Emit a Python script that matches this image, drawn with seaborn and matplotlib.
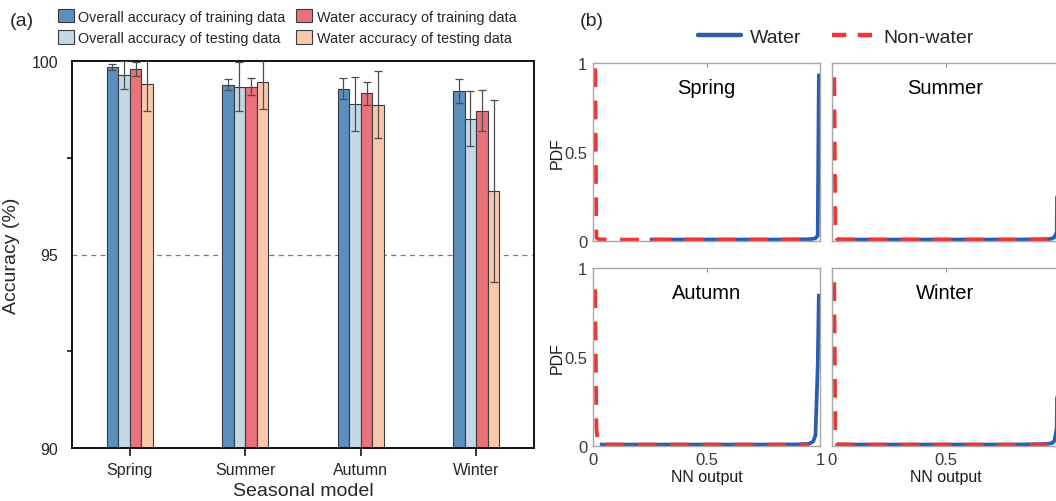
import numpy as np
import pandas as pd
import matplotlib
matplotlib.use("Agg")
import matplotlib.pyplot as plt
from matplotlib.lines import Line2D
from matplotlib.ticker import FixedLocator, MultipleLocator, NullFormatter
import seaborn as sns

# ---------------- (a) seasonal model accuracy ----------------
seasons = ["Spring", "Summer", "Autumn", "Winter"]
metrics = [
    "Overall accuracy of training data",
    "Overall accuracy of testing data",
    "Water accuracy of training data",
    "Water accuracy of testing data",
]
overall_train = [99.85, 99.39, 99.28, 99.23]
overall_train_err = [0.07, 0.14, 0.27, 0.31]
overall_test = [99.63, 99.34, 98.89, 98.51]
overall_test_err = [0.36, 0.63, 0.69, 0.71]
water_train = [99.79, 99.34, 99.17, 98.72]
water_train_err = [0.18, 0.22, 0.30, 0.53]
water_test = [99.41, 99.45, 98.87, 96.63]
water_test_err = [0.70, 0.68, 0.87, 2.35]
bar_colors = ["#5b8fc0", "#c3d7e7", "#ea727b", "#f9c8ab"]
acc_ticks = [90, 95, 100]

# ---------------- (b) PDF of the network output ----------------
pdf_x = [0.01, 0.015, 0.02, 0.03, 0.05, 0.10, 0.20, 0.25, 0.30, 0.40,
         0.50, 0.60, 0.70, 0.80, 0.90, 0.95, 0.97, 0.98, 0.99, 0.995]
nan = np.nan
spring_water = [nan, nan, nan, nan, nan, nan, nan, 0.008, 0.008, 0.008,
                0.008, 0.008, 0.008, 0.008, 0.009, 0.010, 0.012, 0.016, 0.03, 0.94]
summer_water = [nan, nan, 0.008, 0.008, 0.008, 0.008, 0.008, 0.008, 0.008, 0.008,
                0.008, 0.008, 0.008, 0.008, 0.009, 0.010, 0.014, 0.022, 0.05, 0.90]
autumn_water = [nan, nan, nan, 0.008, 0.008, 0.008, 0.008, 0.008, 0.008, 0.008,
                0.008, 0.008, 0.008, 0.008, 0.009, 0.012, 0.025, 0.06, 0.45, 0.855]
winter_water = [nan, nan, 0.008, 0.008, 0.008, 0.008, 0.008, 0.008, 0.008, 0.008,
                0.008, 0.008, 0.008, 0.008, 0.010, 0.012, 0.016, 0.030, 0.10, 0.85]
spring_nonwater = [0.97, 0.02, 0.012, 0.010, 0.009, 0.008, 0.008, 0.008, 0.008, 0.008,
                   0.008, 0.008, 0.008, 0.008, 0.008, 0.008, nan, nan, nan, nan]
summer_nonwater = [0.92, 0.03, 0.012, 0.010, 0.009, 0.008, 0.008, 0.008, 0.008, 0.008,
                   0.008, 0.008, 0.008, 0.008, 0.008, 0.008, nan, nan, nan, nan]
autumn_nonwater = [0.88, 0.10, 0.03, 0.012, 0.009, 0.008, 0.008, 0.008, 0.008, 0.008,
                   0.008, 0.008, 0.008, 0.008, 0.008, 0.008, nan, nan, nan, nan]
winter_nonwater = [0.92, 0.03, 0.012, 0.010, 0.009, 0.008, 0.008, 0.008, 0.008, 0.008,
                   0.008, 0.008, 0.008, 0.008, 0.008, 0.008, nan, nan, nan, nan]
pdf_ticks = [0, 0.5, 1]
pdf_tick_labels = ["0", "0.5", "1"]
water_color = "#2b5cae"
nonwater_color = "#f03333"

sns.set_style("white")
plt.rcParams["font.family"] = ["Liberation Sans", "DejaVu Sans"]

W, H = 1056, 502
fig = plt.figure(figsize=(W / 100, H / 100), dpi=100)


def frac(x0, y0, w, h):
    """Pixel box (left, top, width, height) -> figure fraction rect."""
    return [x0 / W, 1 - (y0 + h) / H, w / W, h / H]


# ---------------- panel (a) ----------------
ax = fig.add_axes(frac(72, 62, 462, 387))
df = pd.DataFrame({
    "season": seasons * 4,
    "metric": np.repeat(metrics, len(seasons)),
    "accuracy": overall_train + overall_test + water_train + water_test,
})
errs = [overall_train_err, overall_test_err, water_train_err, water_test_err]

ax.axhline(95, color="#7a7a7a", lw=0.9, ls=(0, (4, 3.5)), zorder=0)
sns.barplot(data=df, x="season", y="accuracy", hue="metric", hue_order=metrics,
            palette=bar_colors, width=0.4, saturation=1, errorbar=None,
            edgecolor="#3a3a3a", linewidth=0.8, ax=ax, zorder=2)

for container, err in zip(ax.containers, errs):
    xs = [p.get_x() + p.get_width() / 2 for p in container]
    ys = [p.get_height() for p in container]
    ax.errorbar(xs, ys, yerr=err, fmt="none", ecolor="#4d4d4d",
                elinewidth=0.9, capsize=3.2, capthick=0.9, zorder=3)

handles, labels = ax.get_legend_handles_labels()
if ax.get_legend() is not None:
    ax.get_legend().remove()

ax.set_xlim(-0.5, 3.5)
ax.set_ylim(90, 100)
ax.yaxis.set_major_locator(FixedLocator(acc_ticks))
ax.yaxis.set_minor_locator(MultipleLocator(2.5))
ax.tick_params(axis="both", which="major", direction="out", length=6,
               width=1.1, color="black", labelsize=11.5, pad=4)
ax.tick_params(axis="y", which="minor", direction="out", length=3.5,
               width=1.1, color="black", left=True)
ax.tick_params(axis="x", bottom=True)
for s in ax.spines.values():
    s.set_color("black")
    s.set_linewidth(1.3)
ax.set_xlabel("Seasonal model", fontsize=14, labelpad=4)
ax.set_ylabel("Accuracy (%)", fontsize=14, labelpad=8)

fig.legend(handles, labels, ncol=2, loc="upper left",
           bbox_to_anchor=(58 / W, 1 - 10 / H), frameon=False, fontsize=10.4,
           handlelength=1.1, handleheight=1.05, handletextpad=0.3,
           columnspacing=0.75, labelspacing=0.45, borderpad=0, borderaxespad=0)
fig.text(10 / W, 1 - 21 / H, "(a)", fontsize=14, va="center", ha="left")

# ---------------- panel (b) ----------------
fig.text(580 / W, 1 - 21 / H, "(b)", fontsize=14, va="center", ha="left")

panels = [
    ("Spring", spring_water, spring_nonwater, 593, 64, True, False),
    ("Summer", summer_water, summer_nonwater, 832, 64, False, False),
    ("Autumn", autumn_water, autumn_nonwater, 593, 269, True, True),
    ("Winter", winter_water, winter_nonwater, 832, 269, False, True),
]
for name, wat, nonwat, px, py, first_col, last_row in panels:
    a = fig.add_axes(frac(px, py, 227, 178))
    sns.lineplot(x=pdf_x, y=wat, color=water_color, lw=2.7, ax=a,
                 solid_capstyle="butt", clip_on=False)
    sns.lineplot(x=pdf_x, y=nonwat, color=nonwater_color, lw=2.7, ax=a,
                 linestyle=(0, (5, 3.6)), clip_on=False)
    a.set_xlim(0, 1)
    a.set_ylim(0, 1)
    for s in a.spines.values():
        s.set_color("#a6a6a6")
        s.set_linewidth(1.0)
    a.text(0.5, 0.865, name, transform=a.transAxes, ha="center", va="center",
           fontsize=14.5, color="black")
    a.xaxis.set_ticks_position("both")
    a.tick_params(axis="both", direction="in", length=3, width=0.8,
                  color="#8c8c8c", labelsize=12, labelcolor="#3a3a3a", pad=4)
    if first_col:
        a.yaxis.set_major_locator(FixedLocator(pdf_ticks))
        a.set_yticklabels(pdf_tick_labels)
        a.set_ylabel("PDF", fontsize=11.5, labelpad=0, color="#1a1a1a")
    else:
        a.yaxis.set_major_locator(FixedLocator([0.2, 0.4, 0.6, 0.8]))
        a.yaxis.set_major_formatter(NullFormatter())
        a.set_ylabel("")
    a.xaxis.set_major_locator(FixedLocator([0.5]))
    if last_row:
        # the right column runs past the figure edge, so its "1" is not shown
        shown = pdf_ticks if first_col else pdf_ticks[:2]
        a.xaxis.set_major_locator(FixedLocator(shown))
        a.set_xticklabels(pdf_tick_labels[:len(shown)])
        a.set_xlabel("NN output", fontsize=11.5, labelpad=2, color="#1a1a1a")
    else:
        a.xaxis.set_major_formatter(NullFormatter())
        a.set_xlabel("")

legend_handles = [
    Line2D([], [], color=water_color, lw=3.2),
    Line2D([], [], color=nonwater_color, lw=3.2, linestyle=(0, (3.2, 2.6))),
]
fig.legend(legend_handles, ["Water", "Non-water"], ncol=2, loc="center",
           bbox_to_anchor=(836 / W, 1 - 38 / H), frameon=False, fontsize=14,
           handlelength=2.2, handletextpad=0.45, columnspacing=1.6,
           borderpad=0, borderaxespad=0)

fig.savefig("out.png", dpi=100)
